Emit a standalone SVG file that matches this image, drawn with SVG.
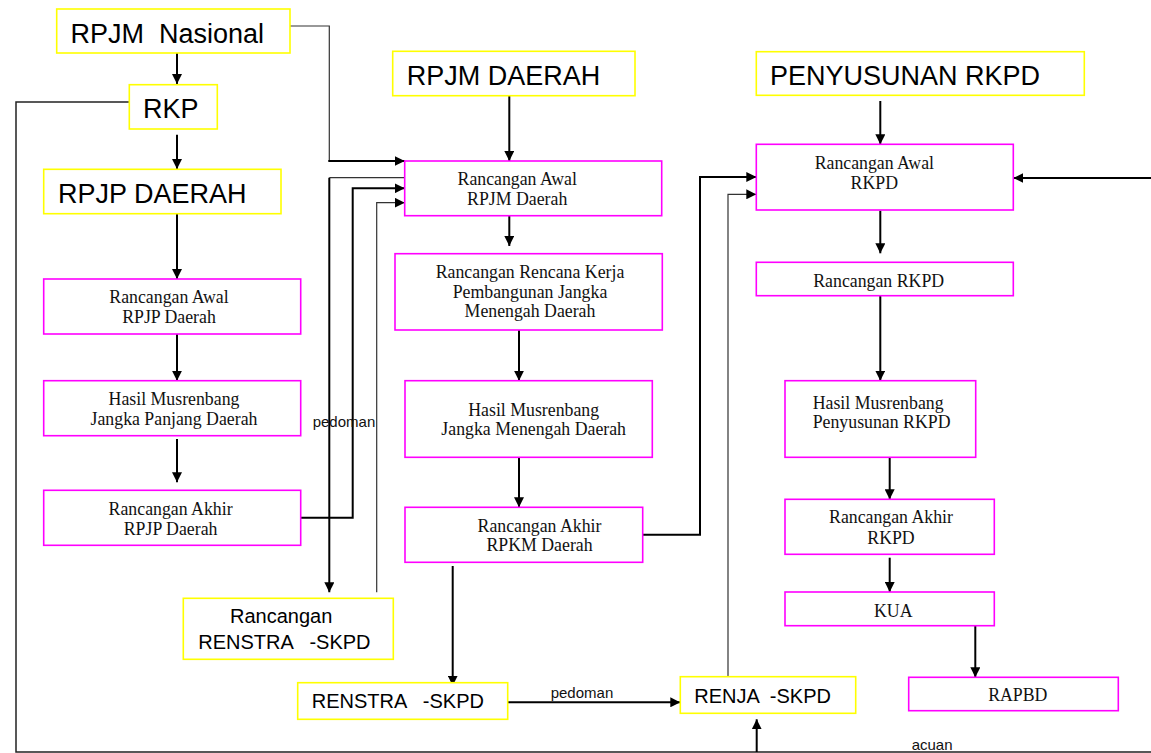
<svg xmlns="http://www.w3.org/2000/svg" width="1151" height="753" viewBox="0 0 1151 753">
<style>
.y{fill:#fff;stroke:#ffff00;stroke-width:1.6}
.m{fill:#fff;stroke:#ff00ff;stroke-width:1.6}
.big{font-family:"Liberation Sans",Arial,sans-serif;font-size:27px;fill:#000}
.mid{font-family:"Liberation Sans",Arial,sans-serif;font-size:20px;fill:#000}
.ser{font-family:"Liberation Serif","Times New Roman",serif;font-size:17.8px;fill:#111;text-anchor:middle}
.lbl{font-family:"Liberation Sans",Arial,sans-serif;font-size:15px;fill:#111}
.k{fill:none;stroke:#000;stroke-width:2}
.t{fill:none;stroke:#333;stroke-width:1.2}
.a{marker-end:url(#ah)}
</style>
<defs>
<marker id="ah" markerUnits="userSpaceOnUse" markerWidth="10" markerHeight="10" refX="10" refY="5" orient="auto">
<path d="M0,0 L10,5 L0,10 z" fill="#000"/>
</marker>
</defs>
<rect width="1151" height="753" fill="#fff"/>
<g id="connectors">
<path class="k a" d="M177,53 V84"/>
<path class="k a" d="M177,134.7 V169"/>
<path class="k a" d="M177,214 V279"/>
<path class="k a" d="M177,334 V380.7"/>
<path class="k a" d="M177,439 V482.3"/>
<path class="t" d="M290,26 H329.3 V161"/>
<path class="k a" d="M328.3,161 H404.7"/>
<path class="t" d="M129.3,102 H16 V752 H1151" style="stroke:#222;stroke-width:1.5"/>
<path class="k a" d="M1151,178 H1013.3"/>
<path class="k a" d="M756.7,752 V719.3"/>
<path class="t" d="M404.7,177.7 H329.3"/>
<path class="k a" d="M329.3,177.7 V592.3"/>
<path class="k a" d="M300.7,517.7 H352.7 V188.3 H404.7"/>
<path class="t a" d="M376.7,592.3 V202.7 H404.7"/>
<path class="k a" d="M509.3,95.7 V161"/>
<path class="k a" d="M509.3,211 V246"/>
<path class="k a" d="M519,330 V380.7"/>
<path class="k a" d="M519,457.3 V507.3"/>
<path class="k a" d="M452.7,566 V685.7"/>
<path class="k a" d="M642.7,534.7 H700 V177 H756.3"/>
<path class="t a" d="M728,676.7 V194.3 H756.3"/>
<path class="k a" d="M507.7,702.3 H680.3"/>
<path class="k a" d="M880.3,101 V144.3"/>
<path class="k a" d="M880.3,210.7 V253.3"/>
<path class="k a" d="M880.3,295.7 V380.7"/>
<path class="k a" d="M889.7,457.3 V499.3"/>
<path class="k a" d="M889.7,557.7 V592"/>
<path class="k a" d="M975.3,625.7 V677.3"/>
<text class="lbl" x="312.7" y="427">pedoman</text>
<text class="lbl" x="550.7" y="697.7">pedoman</text>
<text class="lbl" x="911.7" y="750">acuan</text>
</g>
<g id="rpjm-nasional"><rect class="y" x="56.7" y="9" width="233.3" height="44"/><text class="big" x="70.5" y="42.5" xml:space="preserve">RPJM  Nasional</text></g>
<g id="rkp"><rect class="y" x="129.3" y="84.7" width="88" height="44.3"/><text class="big" x="143" y="118">RKP</text></g>
<g id="rpjp-daerah"><rect class="y" x="43.7" y="169.3" width="237.3" height="44.4"/><text class="big" x="58" y="203">RPJP DAERAH</text></g>
<g id="rpjm-daerah"><rect class="y" x="392.7" y="51.3" width="242.3" height="44.4"/><text class="big" x="406.7" y="85">RPJM DAERAH</text></g>
<g id="penyusunan-rkpd"><rect class="y" x="756.3" y="51.7" width="328" height="43.6"/><text class="big" x="770" y="85">PENYUSUNAN RKPD</text></g>
<g id="rancangan-renstra"><rect class="y" x="183.3" y="598.3" width="210" height="61"/><text class="mid" x="230" y="623.3">Rancangan</text><text class="mid" x="198.3" y="649.3" xml:space="preserve">RENSTRA   -SKPD</text></g>
<g id="renstra-skpd"><rect class="y" x="297.7" y="682.7" width="210" height="36.6"/><text class="mid" x="311.7" y="708.3" xml:space="preserve">RENSTRA   -SKPD</text></g>
<g id="renja-skpd"><rect class="y" x="680.3" y="676.7" width="175.4" height="36.6"/><text class="mid" x="694.3" y="703.3" xml:space="preserve">RENJA  -SKPD</text></g>
<g id="rancangan-awal-rpjp"><rect class="m" x="43.7" y="279" width="257" height="55"/><text class="ser" x="169" y="303.3">Rancangan Awal</text><text class="ser" x="169" y="323.3">RPJP Daerah</text></g>
<g id="hasil-musrenbang-jpd"><rect class="m" x="43.7" y="380.7" width="257" height="55"/><text class="ser" x="174" y="405">Hasil Musrenbang</text><text class="ser" x="174" y="425">Jangka Panjang Daerah</text></g>
<g id="rancangan-akhir-rpjp"><rect class="m" x="43.7" y="490.3" width="257" height="55"/><text class="ser" x="170.6" y="515">Rancangan Akhir</text><text class="ser" x="170.6" y="535">RPJP Daerah</text></g>
<g id="rancangan-awal-rpjm"><rect class="m" x="404.7" y="161" width="257" height="54.7"/><text class="ser" x="517.2" y="185">Rancangan Awal</text><text class="ser" x="517.2" y="205">RPJM Daerah</text></g>
<g id="rancangan-rencana-kerja"><rect class="m" x="395" y="253.7" width="267.3" height="76.3"/><text class="ser" x="530" y="278.3">Rancangan Rencana Kerja</text><text class="ser" x="530" y="298.3">Pembangunan Jangka</text><text class="ser" x="530" y="317.3">Menengah Daerah</text></g>
<g id="hasil-musrenbang-jmd"><rect class="m" x="405" y="380.7" width="247.3" height="76.6"/><text class="ser" x="533.7" y="416">Hasil Musrenbang</text><text class="ser" x="533.7" y="435">Jangka Menengah Daerah</text></g>
<g id="rancangan-akhir-rpkm"><rect class="m" x="405" y="507.3" width="237.7" height="55"/><text class="ser" x="539.5" y="531.7">Rancangan Akhir</text><text class="ser" x="539.5" y="551">RPKM Daerah</text></g>
<g id="rancangan-awal-rkpd"><rect class="m" x="756.3" y="144.3" width="257" height="65.7"/><text class="ser" x="874.3" y="169.3">Rancangan Awal</text><text class="ser" x="874.3" y="189.3">RKPD</text></g>
<g id="rancangan-rkpd"><rect class="m" x="756.3" y="262.3" width="257" height="33.4"/><text class="ser" x="878.7" y="286.7">Rancangan RKPD</text></g>
<g id="hasil-musrenbang-rkpd"><rect class="m" x="785" y="380.7" width="190.7" height="76.6"/><text class="ser" x="812.7" y="409" style="text-anchor:start">Hasil Musrenbang</text><text class="ser" x="812.7" y="428.3" style="text-anchor:start">Penyusunan RKPD</text></g>
<g id="rancangan-akhir-rkpd"><rect class="m" x="785" y="499.3" width="209.3" height="55"/><text class="ser" x="891" y="522.7">Rancangan Akhir</text><text class="ser" x="891" y="544">RKPD</text></g>
<g id="kua"><rect class="m" x="785" y="592" width="209.3" height="33.7"/><text class="ser" x="893.3" y="616.7">KUA</text></g>
<g id="rapbd"><rect class="m" x="908.7" y="677.3" width="209.6" height="33.4"/><text class="ser" x="1017.8" y="701">RAPBD</text></g>
</svg>
